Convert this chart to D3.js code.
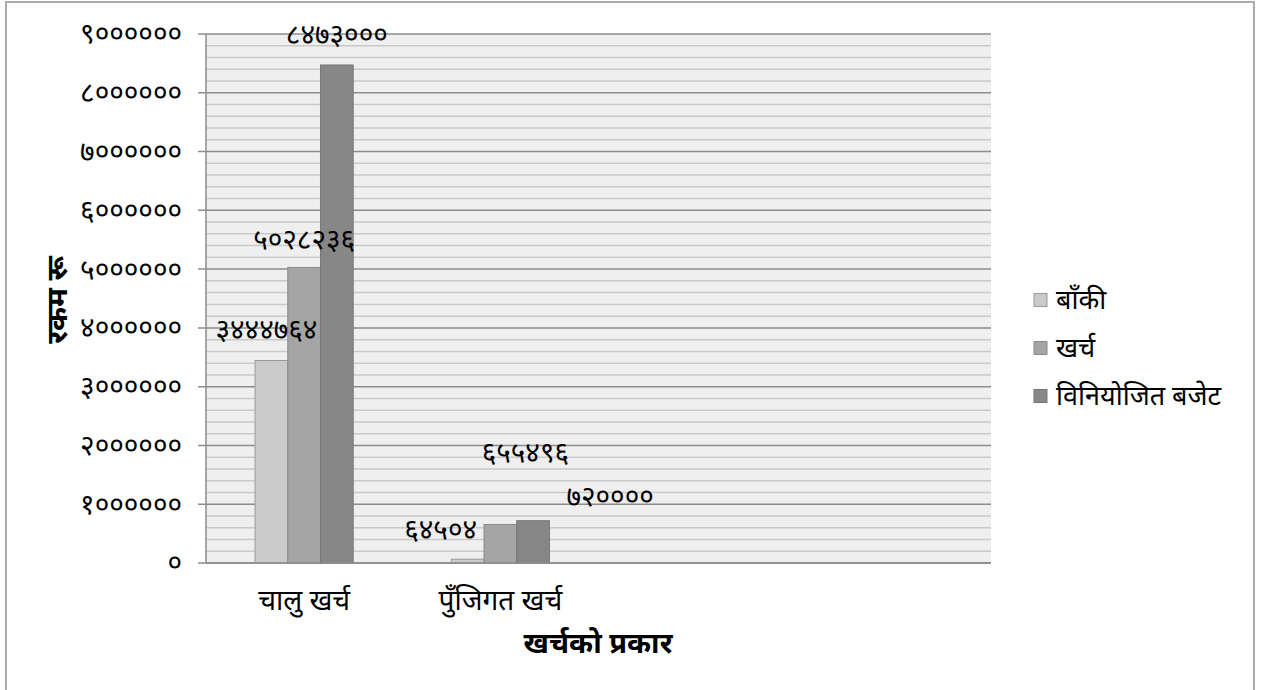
<!DOCTYPE html>
<html>
<head>
<meta charset="utf-8">
<script src="https://cdn.jsdelivr.net/npm/d3@7"></script>
<style>
  body { margin: 0; background: #fff; }
  svg text { font-family: "Noto Sans Devanagari", "Noto Sans", "Lohit Devanagari", sans-serif; fill: #000; }
</style>
</head>
<body>
<div id="chart"></div>
<script>
// categories (two empty slots after the data, like the Excel sheet)
var categories = ["चालु खर्च", "पुँजिगत खर्च", "", " "];
var seriesNames = ["बाँकी", "खर्च", "विनियोजित बजेट"];
var baakiValues = [3444764, 64504];
var kharchaValues = [5028236, 655496];
var budgetValues = [8473000, 720000];
var yTicks = [0, 1000000, 2000000, 3000000, 4000000, 5000000, 6000000, 7000000, 8000000, 9000000];

var colors = ["#cbcbcb", "#a5a5a5", "#878787"];
var strokes = ["#9a9a9a", "#8a8a8a", "#777777"];
// label offsets (px) from the bar top-centre, labels were moved by hand in the original
var labelOffsets = [
    [[-5, -30], [-27, -29]],
    [[0, -27], [25, -71]],
    [[0, -30], [77, -24]]
];

var devDigits = "०१२३४५६७८९";
function toDev(n) {
    return String(n).replace(/[0-9]/g, function (d) { return devDigits[+d]; });
}

var width = 1268, height = 690;
var plot = { left: 206, right: 991, top: 34, bottom: 563 };

var svg = d3.select("#chart").append("svg")
    .attr("width", width)
    .attr("height", height);

// outer frame
svg.append("rect")
    .attr("x", 6).attr("y", 2)
    .attr("width", 1248).attr("height", 700)
    .attr("fill", "#fff")
    .attr("stroke", "#ababab")
    .attr("stroke-width", 2);

var x0 = d3.scaleBand()
    .domain(categories)
    .range([plot.left, plot.right])
    .paddingInner(0.5)
    .paddingOuter(0.25);

var x1 = d3.scaleBand()
    .domain(seriesNames)
    .range([0, x0.bandwidth()]);

var y = d3.scaleLinear()
    .domain([0, 9000000])
    .range([plot.bottom, plot.top]);

// plot background
svg.append("rect")
    .attr("x", plot.left).attr("y", plot.top)
    .attr("width", plot.right - plot.left)
    .attr("height", plot.bottom - plot.top)
    .attr("fill", "#efefef");

// minor gridlines
var minorTicks = d3.range(0, 9000001, 200000).filter(v => v % 1000000 !== 0);
svg.append("g").selectAll("line")
    .data(minorTicks)
    .enter().append("line")
    .attr("x1", plot.left).attr("x2", plot.right)
    .attr("y1", d => y(d)).attr("y2", d => y(d))
    .attr("stroke", "#c9c9c9")
    .attr("stroke-width", 1.5);

// major gridlines
svg.append("g").selectAll("line")
    .data(yTicks)
    .enter().append("line")
    .attr("x1", plot.left - 8).attr("x2", plot.right)
    .attr("y1", d => y(d)).attr("y2", d => y(d))
    .attr("stroke", "#8c8c8c")
    .attr("stroke-width", 1.5);

// y axis line
svg.append("line")
    .attr("x1", plot.left).attr("x2", plot.left)
    .attr("y1", plot.top).attr("y2", plot.bottom)
    .attr("stroke", "#8c8c8c")
    .attr("stroke-width", 1.5);

// y axis
var yAxis = svg.append("g")
    .attr("transform", `translate(${plot.left - 8}, 0)`)
    .call(d3.axisLeft(y).tickValues(yTicks).tickSize(0).tickPadding(16).tickFormat(toDev));
yAxis.select(".domain").remove();
yAxis.selectAll("text")
    .style("font-size", "28px")
    .attr("dy", "0.32em");

// bars
var series = [baakiValues, kharchaValues, budgetValues];
series.forEach(function (vals, s) {
    svg.append("g").selectAll("rect")
        .data(vals)
        .enter().append("rect")
        .attr("x", (d, i) => x0(categories[i]) + x1(seriesNames[s]))
        .attr("y", d => y(d))
        .attr("width", x1.bandwidth())
        .attr("height", d => y(0) - y(d))
        .attr("fill", colors[s])
        .attr("stroke", strokes[s])
        .attr("stroke-width", 1);
});

// bottom axis line
svg.append("line")
    .attr("x1", plot.left).attr("x2", plot.right)
    .attr("y1", plot.bottom).attr("y2", plot.bottom)
    .attr("stroke", "#8c8c8c")
    .attr("stroke-width", 1.5);

// data labels
series.forEach(function (vals, s) {
    svg.append("g").selectAll("text")
        .data(vals)
        .enter().append("text")
        .attr("x", (d, i) => x0(categories[i]) + x1(seriesNames[s]) + x1.bandwidth() / 2 + labelOffsets[s][i][0])
        .attr("y", (d, i) => y(d) + labelOffsets[s][i][1])
        .attr("dy", "0.32em")
        .attr("text-anchor", "middle")
        .style("font-size", "28px")
        .text(d => toDev(d));
});

// category labels
svg.append("g").selectAll("text")
    .data(categories.slice(0, 2))
    .enter().append("text")
    .attr("x", d => x0(d) + x0.bandwidth() / 2)
    .attr("y", 600)
    .attr("dy", "0.35em")
    .attr("text-anchor", "middle")
    .style("font-size", "28px")
    .text(d => d);

// axis titles
svg.append("text")
    .attr("x", 598).attr("y", 643)
    .attr("dy", "0.35em")
    .attr("text-anchor", "middle")
    .style("font-size", "29px")
    .style("font-weight", "bold")
    .text("खर्चको प्रकार");

svg.append("text")
    .attr("transform", "translate(57, 300) rotate(-90)")
    .attr("dy", "0.35em")
    .attr("text-anchor", "middle")
    .style("font-size", "29px")
    .style("font-weight", "bold")
    .text("रकम रू");

// legend
var legend = svg.append("g").selectAll("g")
    .data(seriesNames)
    .enter().append("g")
    .attr("transform", (d, i) => `translate(1034, ${300 + i * 48})`);
legend.append("rect")
    .attr("x", 0).attr("y", -6.5)
    .attr("width", 13).attr("height", 13)
    .attr("fill", (d, i) => colors[i])
    .attr("stroke", (d, i) => strokes[i]);
legend.append("text")
    .attr("x", 22)
    .attr("dy", "0.35em")
    .style("font-size", "27px")
    .text(d => d);
</script>
</body>
</html>
